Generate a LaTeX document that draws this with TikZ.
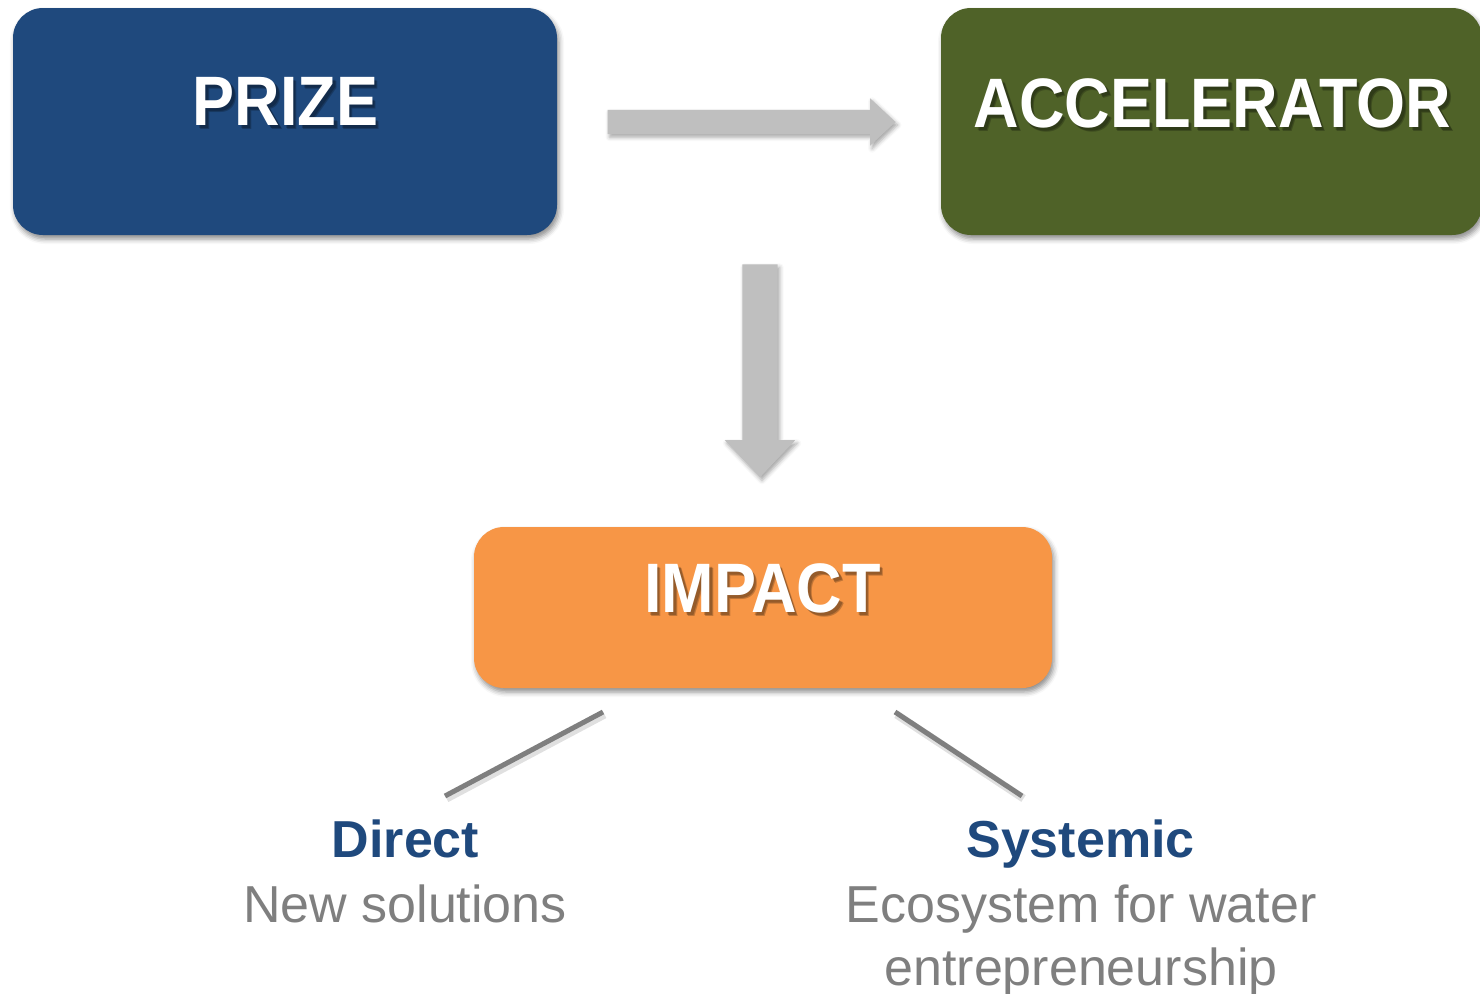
\documentclass[tikz,border=0pt]{standalone}
\usepackage{fontspec}
\setmainfont{Liberation Sans}
\newfontfamily\stagefont[FakeStretch=0.9]{Liberation Sans}
\usetikzlibrary{shapes.arrows,shadows.blur}

\definecolor{prizeblue}{HTML}{1F497D}
\definecolor{accelgreen}{HTML}{4F6228}
\definecolor{impactorange}{HTML}{F79646}
\definecolor{flowgray}{HTML}{BFBFBF}
\definecolor{notegray}{HTML}{7F7F7F}

\tikzset{
  stage/.style={rectangle, rounded corners=30pt, inner sep=0pt,
    blur shadow={shadow xshift=2pt, shadow yshift=-4pt,
      shadow blur radius=5pt, shadow opacity=45}},
  stagetext/.style={anchor=base, inner sep=0pt, text=white,
    font=\stagefont\fontsize{70}{80}\selectfont\bfseries},
  stageshade/.style={stagetext, text=black, text opacity=0.22},
  flow/.style={single arrow, fill=flowgray, inner xsep=0pt,
    blur shadow={shadow xshift=2pt, shadow yshift=-3pt,
      shadow blur radius=4pt, shadow opacity=35}},
  branch/.style={draw=notegray, line width=5pt,
    preaction={draw=black, draw opacity=0.12, line width=8pt,
      transform canvas={shift={(1.5pt,-2.5pt)}}}},
  outcome/.style={anchor=base, inner sep=0pt, text=prizeblue,
    font=\fontsize{52}{63}\selectfont\bfseries},
  outcomenote/.style={anchor=base, inner sep=0pt, align=center,
    text=notegray, font=\fontsize{52}{63}\selectfont}
}

\begin{document}
\begin{tikzpicture}[x=1pt,y=-1pt]
\path[use as bounding box] (0,0) rectangle (1480,993);
\clip (0,0) rectangle (1480,993);

% the three stages
\node[stage, fill=prizeblue, minimum width=544pt, minimum height=227pt] (prize) at (285,121.5) {};
\node[stage, fill=accelgreen, minimum width=541pt, minimum height=227pt] (accel) at (1211.5,121.5) {};
\node[stage, fill=impactorange, minimum width=578pt, minimum height=161pt] (impact) at (763,607.5) {};

\node[stageshade] (prize-shade) at (288,128) {PRIZE};
\node[stageshade] (prize-shade2) at (289,129) {PRIZE};
\node[stagetext] (prize-title) at (285.5,125) {PRIZE};
\node[stageshade] (accel-shade) at (1215,130) {ACCELERATOR};
\node[stageshade] (accel-shade2) at (1216,131) {ACCELERATOR};
\node[stagetext] (accel-title) at (1212.5,127) {ACCELERATOR};
\node[stageshade] (impact-shade) at (765,615) {IMPACT};
\node[stageshade] (impact-shade2) at (766,616) {IMPACT};
\node[stagetext] (impact-title) at (762.5,612) {IMPACT};

% block arrows
\node[flow, minimum height=288pt, inner ysep=12pt,
    single arrow tip angle=86, single arrow head extend=11.5pt] (flow-right) at (745,122) {};
\node[flow, rotate=-90, minimum height=213pt, inner ysep=17.5pt,
    single arrow tip angle=87, single arrow head extend=17.5pt] (flow-down) at (760,361.5) {};

% two kinds of impact
\coordinate (direct-top) at (603,712);
\coordinate (direct-foot) at (445,796);
\coordinate (systemic-top) at (895,712);
\coordinate (systemic-foot) at (1022,796);
\draw[branch] (direct-top) -- (direct-foot);
\draw[branch] (systemic-top) -- (systemic-foot);

\node[outcome] (direct) at (405.5,857) {Direct};
\node[outcomenote] (direct-note) at (405,922) {New solutions};
\node[outcome] (systemic) at (1080.5,857) {Systemic};
\node[outcomenote] (systemic-note) at (1081,985) {Ecosystem for water\\entrepreneurship};
\end{tikzpicture}
\end{document}
